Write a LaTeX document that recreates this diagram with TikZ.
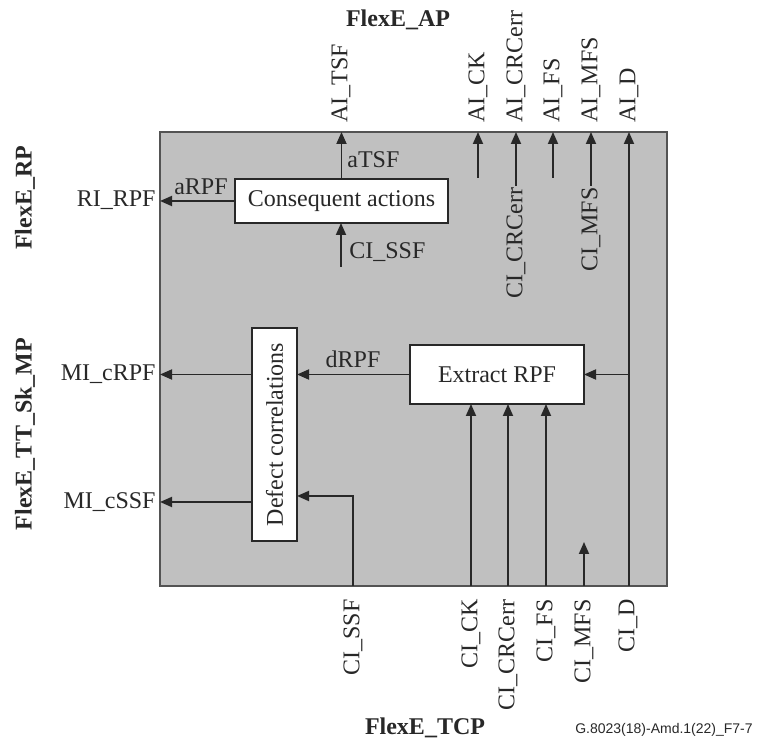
\documentclass[tikz,border=0pt]{standalone}
\usepackage{fontspec}
\setmainfont{Liberation Serif}
\newfontfamily\capfont{Liberation Sans}
\usetikzlibrary{arrows.meta}
\definecolor{panel}{RGB}{192,192,192}
\definecolor{ink}{RGB}{40,40,40}
\begin{document}
\begin{tikzpicture}[x=0.5pt,y=-0.5pt,
  lbl/.style={font=\fontsize{12}{14}\selectfont, inner sep=0.5pt, text=ink},
  bold/.style={font=\fontsize{12}{14}\selectfont\bfseries, inner sep=0pt, text=ink},
  blk/.style={draw=ink, fill=white, line width=0.9pt, font=\fontsize{12}{14}\selectfont, text=ink, inner sep=0pt, outer sep=0pt},
  sig/.style={draw=ink, line width=0.9pt},
  arr/.style={sig, -{Triangle[length=6pt,width=5pt]}},
]
\useasboundingbox (0,0) rectangle (768,743);
% frame
\node[draw=ink!80, fill=panel, line width=0.9pt, minimum width=253.5pt, minimum height=227pt, inner sep=0pt, outer sep=0pt] (frame) at (413.5,359) {};
% blocks
\node[blk, minimum width=106.5pt, minimum height=22pt] (cons) at (341.5,201) {Consequent actions};
\node[blk, minimum width=87pt, minimum height=29.5pt] (extr) at (497,374.5) {Extract RPF};
\node[blk, minimum width=22.5pt, minimum height=106.5pt] (defc) at (274.5,434.5) {\rotatebox{90}{Defect correlations}};
% top group labels
\node[bold] (ap) at (398,20) {FlexE\_AP};
\node[lbl, rotate=90, anchor=west] (aiTSF) at (341,124) {AI\_TSF};
\node[lbl, rotate=90, anchor=west] (aiCK) at (478,124) {AI\_CK};
\node[lbl, rotate=90, anchor=west] (aiCRC) at (516,124) {AI\_CRCerr};
\node[lbl, rotate=90, anchor=west] (aiFS) at (553,124) {AI\_FS};
\node[lbl, rotate=90, anchor=west] (aiMFS) at (591,124) {AI\_MFS};
\node[lbl, rotate=90, anchor=west] (aiD) at (629,124) {AI\_D};
% left labels
\node[bold, rotate=90] (rp) at (25,198) {FlexE\_RP};
\node[bold, rotate=90] (mp) at (25,434) {FlexE\_TT\_Sk\_MP};
\node[lbl, anchor=east] (riRPF) at (157,200) {RI\_RPF};
\node[lbl, anchor=east] (miRPF) at (157,374) {MI\_cRPF};
\node[lbl, anchor=east] (miSSF) at (157,502) {MI\_cSSF};
% bottom labels
\node[lbl, rotate=90, anchor=east] (ciSSFb) at (353,598) {CI\_SSF};
\node[lbl, rotate=90, anchor=east] (ciCKb) at (471,598) {CI\_CK};
\node[lbl, rotate=90, anchor=east] (ciCRCb) at (508,598) {CI\_CRCerr};
\node[lbl, rotate=90, anchor=east] (ciFSb) at (546,598) {CI\_FS};
\node[lbl, rotate=90, anchor=east] (ciMFSb) at (584,598) {CI\_MFS};
\node[lbl, rotate=90, anchor=east] (ciDb) at (628,598) {CI\_D};
\node[bold] (tcp) at (425,728) {FlexE\_TCP};
\node[font=\capfont\fontsize{7}{8}\selectfont, text=ink, inner sep=0pt] (cap) at (664,730) {G.8023(18)-Amd.1(22)\_F7-7};
% inner labels
\node[lbl, rotate=90, anchor=east] (ciCRCt) at (516,186) {CI\_CRCerr};
\node[lbl, rotate=90, anchor=east] (ciMFSt) at (591,186) {CI\_MFS};
\node[lbl, anchor=west] (atsf) at (346,160) {aTSF};
\node[lbl] (arpf) at (201,187) {aRPF};
\node[lbl, anchor=west] (ciSSFt) at (348,252) {CI\_SSF};
\node[lbl] (drpf) at (353,359) {dRPF};
% coordinates
\coordinate (cssf) at (341,267);
\coordinate (ck0) at (478,178);
\coordinate (fs0) at (553,178);
\coordinate (dbot) at (629,586);
\coordinate (bck) at (471,586);
\coordinate (bcrc) at (508,586);
\coordinate (bfs) at (546,586);
\coordinate (bmfs) at (584,586);
\coordinate (tmfs) at (584,542);
\coordinate (bssf) at (353,586);
\coordinate (jssf) at (353,496);
\coordinate (ycssf) at (0,502);
% connectors
\draw[arr] (cons.north) -- (cons.north |- frame.north);
\draw[arr] (cons.west) -- (cons.west -| frame.west);
\draw[arr] (cssf) -- (cssf |- cons.south);
\draw[arr] (ck0) -- (ck0 |- frame.north);
\draw[arr] (ciCRCt.east) -- (ciCRCt.east |- frame.north);
\draw[arr] (fs0) -- (fs0 |- frame.north);
\draw[arr] (ciMFSt.east) -- (ciMFSt.east |- frame.north);
\draw[arr] (dbot) -- (dbot |- frame.north);
\draw[arr] (dbot |- extr.east) -- (extr.east);
\draw[arr] (extr.west) -- (extr.west -| defc.east);
\draw[arr] (bck) -- (bck |- extr.south);
\draw[arr] (bcrc) -- (bcrc |- extr.south);
\draw[arr] (bfs) -- (bfs |- extr.south);
\draw[arr] (bmfs) -- (tmfs);
\draw[arr] (bssf) -- (jssf) -- (jssf -| defc.east);
\draw[arr] (defc.west |- extr.west) -- (frame.west |- extr.west);
\draw[arr] (defc.west |- ycssf) -- (frame.west |- ycssf);
\end{tikzpicture}
\end{document}
